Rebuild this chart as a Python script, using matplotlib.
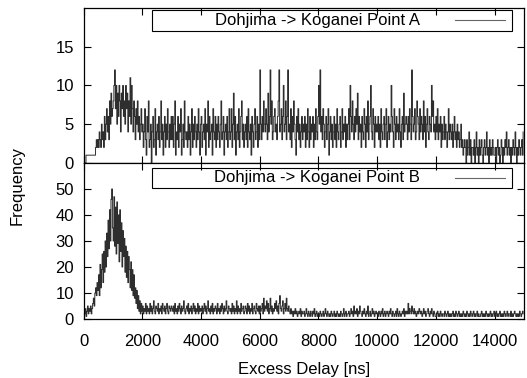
import numpy as np
import matplotlib.pyplot as plt
from matplotlib.patches import Rectangle
from matplotlib.lines import Line2D

plt.rcParams['font.family'] = ['Liberation Sans', 'DejaVu Sans']
plt.rcParams['font.size'] = 12

# histogram bins, 25 ns wide, one row per microsecond
bin_width = 25
labels = ['Dohjima -> Koganei Point A', 'Dohjima -> Koganei Point B']

freq_a = [
    0, 0, 0, 1, 1, 1, 1, 1, 1, 1, 1, 1, 1, 1, 1, 1, 2, 3, 2, 3,
    2, 4, 3, 2, 5, 3, 4, 2, 6, 3, 5, 7, 4, 6, 3, 8, 5, 9, 6, 7,
    8, 10, 12, 7, 10, 5, 9, 6, 10, 8, 4, 9, 7, 10, 6, 8, 5, 10, 7, 9,
    4, 8, 6, 11, 5, 10, 7, 4, 8, 6, 3, 7, 5, 8, 4, 6, 3, 5, 7, 4,
    5, 2, 4, 7, 3, 1, 6, 4, 8, 2, 3, 5, 0, 4, 6, 2, 3, 7, 1, 4,
    5, 3, 6, 2, 4, 8, 3, 5, 1, 4, 6, 2, 5, 3, 7, 4, 2, 5, 3, 6,
    3, 6, 2, 5, 8, 1, 4, 3, 6, 2, 5, 4, 7, 1, 3, 5, 2, 8, 4, 3,
    4, 2, 6, 3, 5, 1, 4, 7, 2, 5, 3, 6, 4, 2, 5, 3, 7, 4, 1, 5,
    6, 2, 4, 5, 3, 7, 1, 5, 4, 8, 2, 6, 3, 4, 5, 1, 7, 4, 3, 6,
    2, 5, 3, 6, 4, 2, 5, 8, 3, 4, 6, 1, 4, 5, 3, 6, 2, 4, 7, 3,
    4, 7, 2, 5, 9, 3, 6, 1, 4, 5, 3, 7, 2, 4, 6, 8, 3, 5, 2, 4,
    5, 3, 6, 2, 7, 4, 3, 5, 1, 6, 4, 2, 5, 7, 3, 4, 6, 2, 5, 3,
    12, 5, 3, 6, 4, 8, 5, 4, 7, 5, 3, 9, 4, 6, 12, 5, 8, 3, 4, 6,
    7, 4, 5, 3, 6, 8, 12, 4, 5, 7, 3, 6, 10, 4, 5, 8, 3, 6, 12, 4,
    5, 3, 7, 2, 6, 4, 8, 5, 3, 1, 6, 4, 7, 3, 5, 2, 4, 6, 3, 5,
    4, 6, 2, 5, 3, 7, 4, 2, 6, 3, 5, 4, 6, 2, 5, 3, 7, 4, 3, 6,
    10, 5, 12, 4, 6, 3, 7, 5, 2, 4, 6, 3, 5, 7, 1, 4, 6, 3, 5, 2,
    4, 6, 3, 5, 2, 7, 4, 3, 5, 6, 2, 4, 7, 3, 5, 4, 6, 2, 5, 3,
    5, 7, 3, 10, 6, 4, 8, 5, 3, 6, 4, 7, 5, 9, 3, 6, 4, 5, 2, 6,
    4, 3, 7, 5, 2, 6, 4, 8, 3, 5, 6, 10, 4, 3, 7, 5, 2, 6, 4, 5,
    4, 6, 3, 5, 2, 7, 4, 3, 5, 6, 3, 5, 7, 2, 4, 6, 3, 5, 4, 10,
    6, 4, 2, 7, 5, 3, 6, 4, 5, 3, 7, 4, 2, 5, 6, 3, 9, 4, 5, 6,
    5, 3, 6, 4, 7, 5, 3, 12, 6, 4, 5, 7, 3, 4, 8, 6, 5, 3, 7, 4,
    6, 5, 3, 8, 4, 6, 2, 5, 7, 4, 3, 6, 5, 4, 10, 6, 8, 4, 5, 3,
    6, 4, 7, 3, 5, 4, 6, 2, 5, 3, 4, 6, 3, 5, 4, 2, 4, 7, 3, 5,
    4, 3, 5, 2, 4, 6, 3, 4, 2, 5, 3, 4, 2, 3, 5, 2, 3, 1, 2, 3,
    2, 0, 3, 1, 2, 4, 1, 3, 0, 2, 2, 1, 3, 0, 2, 4, 1, 2, 0, 3,
    1, 2, 3, 1, 0, 2, 3, 1, 2, 4, 1, 2, 0, 3, 1, 2, 1, 3, 2, 1,
    1, 2, 0, 2, 3, 1, 2, 0, 1, 3, 2, 0, 2, 1, 3, 2, 4, 1, 2, 3,
    1, 2, 0, 2, 1, 3, 2, 1, 4, 2, 0, 2, 1, 3, 2, 1, 2, 3, 1, 4,
]

freq_b = [
    3, 2, 4, 1, 3, 5, 2, 4, 3, 5, 2, 4, 6, 8, 5, 10, 12, 9, 14, 11,
    17, 9, 21, 12, 19, 25, 14, 26, 18, 30, 20, 33, 24, 38, 27, 42, 30, 46, 50, 35,
    30, 47, 28, 43, 25, 45, 29, 40, 22, 42, 26, 37, 20, 34, 24, 31, 18, 28, 16, 26,
    14, 24, 19, 12, 22, 11, 19, 9, 17, 8, 12, 6, 11, 4, 9, 3, 7, 2, 6, 3,
    5, 2, 4, 3, 6, 2, 5, 3, 4, 2, 6, 3, 5, 2, 4, 7, 3, 2, 5, 4,
    3, 6, 2, 4, 3, 5, 2, 6, 4, 3, 5, 2, 4, 6, 3, 2, 5, 4, 3, 5,
    4, 3, 5, 2, 6, 3, 4, 2, 5, 3, 6, 4, 2, 5, 3, 4, 7, 3, 2, 4,
    5, 3, 6, 2, 4, 3, 5, 2, 4, 6, 3, 5, 2, 4, 3, 6, 2, 5, 3, 4,
    3, 5, 2, 4, 6, 3, 5, 2, 4, 7, 3, 4, 2, 5, 3, 6, 2, 4, 3, 5,
    4, 2, 6, 3, 4, 2, 5, 3, 6, 4, 2, 5, 3, 4, 7, 3, 2, 5, 4, 3,
    4, 2, 6, 3, 5, 2, 4, 3, 7, 2, 5, 3, 4, 2, 6, 3, 4, 5, 2, 3,
    5, 4, 2, 6, 3, 5, 2, 4, 3, 6, 2, 4, 5, 3, 2, 6, 4, 3, 5, 2,
    5, 3, 4, 6, 2, 8, 3, 5, 4, 7, 3, 6, 2, 4, 8, 3, 5, 2, 4, 3,
    6, 4, 7, 3, 5, 2, 6, 9, 4, 3, 5, 7, 2, 4, 6, 3, 8, 4, 3, 5,
    3, 2, 4, 2, 3, 1, 3, 2, 4, 2, 3, 1, 2, 3, 2, 4, 1, 3, 2, 2,
    3, 1, 2, 4, 2, 1, 3, 2, 1, 3, 2, 1, 3, 2, 4, 1, 2, 3, 1, 2,
    2, 1, 3, 2, 1, 2, 3, 1, 2, 4, 2, 1, 3, 2, 1, 2, 1, 3, 2, 1,
    2, 3, 1, 2, 1, 3, 2, 1, 2, 1, 3, 2, 1, 2, 4, 1, 2, 3, 1, 2,
    2, 3, 1, 2, 4, 2, 3, 1, 5, 2, 3, 2, 4, 1, 3, 2, 5, 3, 2, 1,
    3, 2, 4, 2, 1, 3, 2, 5, 1, 2, 3, 1, 2, 4, 2, 3, 1, 2, 3, 2,
    2, 1, 3, 2, 1, 3, 2, 4, 1, 2, 3, 1, 2, 3, 2, 1, 3, 2, 4, 2,
    1, 3, 2, 1, 2, 3, 1, 4, 2, 1, 3, 2, 1, 2, 3, 2, 4, 1, 3, 2,
    3, 2, 6, 2, 4, 3, 2, 5, 3, 2, 4, 2, 3, 1, 2, 3, 2, 4, 3, 2,
    3, 1, 2, 4, 2, 3, 1, 2, 3, 4, 2, 1, 3, 2, 4, 2, 1, 3, 2, 1,
    1, 2, 3, 1, 2, 1, 3, 2, 1, 2, 2, 1, 3, 2, 1, 2, 3, 1, 2, 1,
    2, 1, 2, 3, 1, 2, 1, 3, 2, 1, 2, 3, 1, 2, 1, 2, 1, 3, 2, 1,
    2, 1, 3, 2, 1, 2, 1, 3, 2, 1, 2, 3, 1, 2, 1, 2, 3, 1, 2, 1,
    1, 2, 3, 1, 2, 1, 2, 1, 3, 2, 1, 2, 1, 2, 3, 1, 2, 1, 2, 3,
    1, 2, 3, 1, 2, 1, 2, 3, 1, 2, 1, 2, 1, 3, 2, 1, 2, 3, 1, 2,
    2, 1, 3, 1, 2, 1, 2, 3, 2, 1, 2, 1, 2, 1, 3, 2, 1, 2, 3, 2,
]

fig = plt.figure(figsize=(5.27, 3.78), dpi=100)
ax_a = fig.add_axes([0.159, 0.569, 0.835, 0.410])
ax_b = fig.add_axes([0.159, 0.156, 0.835, 0.413])

line_kw = dict(color='#2e2e2e', lw=0.7, drawstyle='steps-post')


def style_axes(ax, ylim, yticks):
    ax.set_xlim(0, 15000)
    ax.set_ylim(*ylim)
    ax.set_yticks(yticks)
    ax.set_xticks(range(0, 15000, 2000))
    ax.tick_params(direction='in', length=5, width=0.8, top=True, right=True,
                   labelsize=12)
    ax.tick_params(axis='y', pad=7)
    ax.tick_params(axis='x', pad=11)
    for s in ax.spines.values():
        s.set_linewidth(0.9)


def draw_key(ax, label, y0, y1):
    # boxed key: text right aligned, line sample on the right
    ax.add_patch(Rectangle((0.1545, y0), 0.8185, y1 - y0, transform=ax.transAxes,
                           fill=False, lw=0.8, ec='black', zorder=3))
    ym = (y0 + y1) / 2
    ax.text(0.764, ym, label, transform=ax.transAxes, ha='right', va='center',
            fontsize=12, zorder=3)
    ax.add_line(Line2D([0.843, 0.957], [ym, ym], transform=ax.transAxes,
                       color='#666666', lw=0.8, zorder=3))


ax_a.plot(np.arange(len(freq_a)) * bin_width, freq_a, **line_kw)
style_axes(ax_a, (0, 20), [0, 5, 10, 15])
ax_a.tick_params(labelbottom=False)
draw_key(ax_a, labels[0], 0.852, 0.987)

ax_b.plot(np.arange(len(freq_b)) * bin_width, freq_b, **line_kw)
style_axes(ax_b, (0, 60), [0, 10, 20, 30, 40, 50])
draw_key(ax_b, labels[1], 0.84, 0.968)
ax_b.set_xlabel('Excess Delay [ns]', fontsize=12, labelpad=9)

fig.text(0.032, 0.51, 'Frequency', rotation=90, ha='center', va='center',
         fontsize=12)

fig.savefig('out.png', dpi=100)
